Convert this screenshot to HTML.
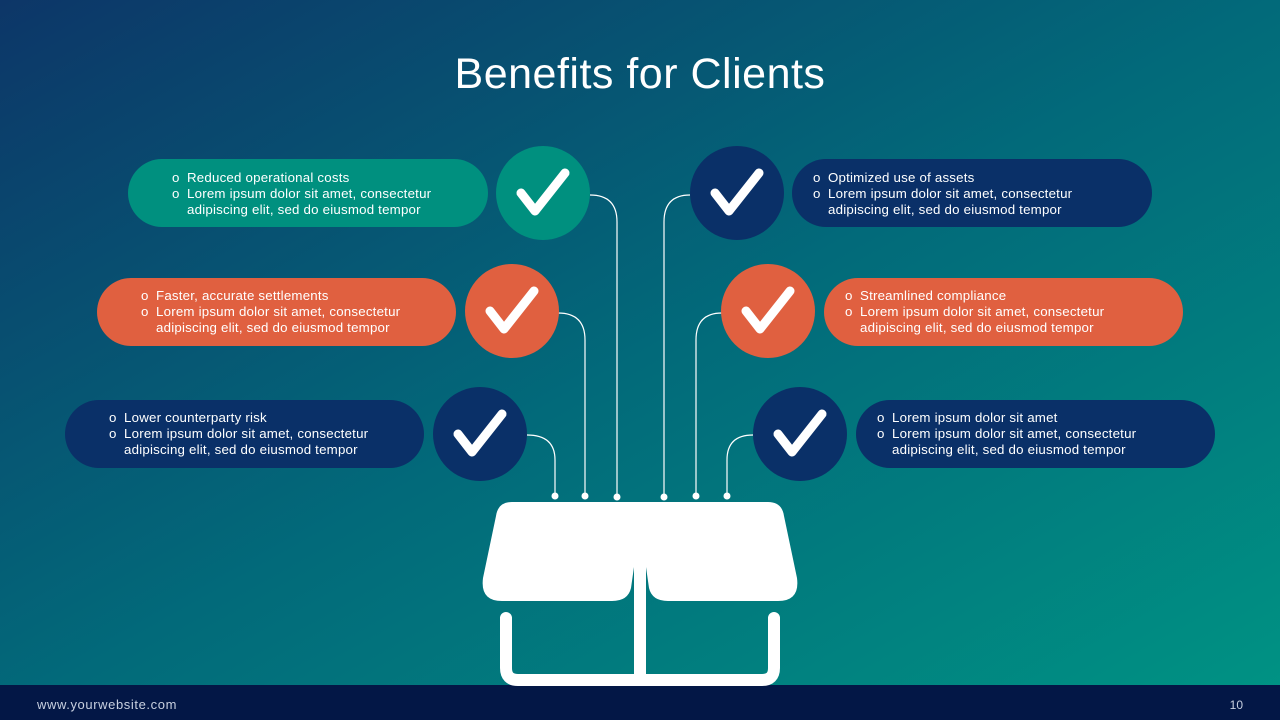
<!DOCTYPE html>
<html><head><meta charset="utf-8"><style>
html,body{margin:0;padding:0;width:1280px;height:720px;overflow:hidden}
svg{display:block}
text{font-family:"Liberation Sans",sans-serif;fill:#fff}
</style></head><body>
<svg width="1280" height="720" viewBox="0 0 1280 720" xmlns="http://www.w3.org/2000/svg">
<defs>
<linearGradient id="bg" x1="0" y1="0" x2="1" y2="1" gradientUnits="objectBoundingBox">
<stop offset="0" stop-color="#0d3668"/>
<stop offset="0.5" stop-color="#026a7a"/>
<stop offset="1" stop-color="#009484"/>
</linearGradient>
<g id="chk"><path d="M-22,0 L-8,18 L22,-20" fill="none" stroke="#fff" stroke-width="9" stroke-linecap="round" stroke-linejoin="round"/></g>
</defs>
<rect width="1280" height="720" fill="url(#bg)"/>
<rect y="685" width="1280" height="35" fill="#031746"/>
<text x="37" y="709" font-size="13" letter-spacing="0.6" style="fill:#c8d0e0">www.yourwebsite.com</text>
<text x="1243" y="709" font-size="12" text-anchor="end" style="fill:#c8d0e0">10</text>
<text x="640" y="88" font-size="43" text-anchor="middle" letter-spacing="0.5">Benefits for Clients</text>

<!-- connectors -->
<g fill="none" stroke="#fff" stroke-width="1.2">
<path d="M590,195 Q617,195 617,222 L617,497"/>
<path d="M558,313 Q585,313 585,340 L585,496"/>
<path d="M527,435 Q555,435 555,460 L555,496"/>
<path d="M690,195 Q664,195 664,222 L664,497"/>
<path d="M722,313 Q696,313 696,340 L696,496"/>
<path d="M753,435 Q727,435 727,460 L727,496"/>
</g>
<g fill="#fff">
<circle cx="555" cy="496" r="3.5"/><circle cx="585" cy="496" r="3.5"/><circle cx="617" cy="497" r="3.5"/>
<circle cx="664" cy="497" r="3.5"/><circle cx="696" cy="496" r="3.5"/><circle cx="727" cy="496" r="3.5"/>
</g>

<!-- pills -->
<rect x="128" y="159" width="360" height="68" rx="34" fill="#00907f"/>
<rect x="97" y="278" width="359" height="68" rx="34" fill="#e06040"/>
<rect x="65" y="400" width="359" height="68" rx="34" fill="#0a3068"/>
<rect x="792" y="159" width="360" height="68" rx="34" fill="#0a3068"/>
<rect x="824" y="278" width="359" height="68" rx="34" fill="#e06040"/>
<rect x="856" y="400" width="359" height="68" rx="34" fill="#0a3068"/>

<!-- circles -->
<circle cx="543" cy="193" r="47" fill="#00907f"/><use href="#chk" x="543" y="193"/>
<circle cx="512" cy="311" r="47" fill="#e06040"/><use href="#chk" x="512" y="311"/>
<circle cx="480" cy="434" r="47" fill="#0a3068"/><use href="#chk" x="480" y="434"/>
<circle cx="737" cy="193" r="47" fill="#0a3068"/><use href="#chk" x="737" y="193"/>
<circle cx="768" cy="311" r="47" fill="#e06040"/><use href="#chk" x="768" y="311"/>
<circle cx="800" cy="434" r="47" fill="#0a3068"/><use href="#chk" x="800" y="434"/>

<!-- texts -->
<g font-size="13.3" letter-spacing="0.2">
<text x="172" y="182">o</text><text x="187" y="182">Reduced operational costs</text>
<text x="172" y="198">o</text><text x="187" y="198">Lorem ipsum dolor sit amet, consectetur</text>
<text x="187" y="214">adipiscing elit, sed do eiusmod tempor</text>

<text x="141" y="300">o</text><text x="156" y="300">Faster, accurate settlements</text>
<text x="141" y="316">o</text><text x="156" y="316">Lorem ipsum dolor sit amet, consectetur</text>
<text x="156" y="332">adipiscing elit, sed do eiusmod tempor</text>

<text x="109" y="422">o</text><text x="124" y="422">Lower counterparty risk</text>
<text x="109" y="438">o</text><text x="124" y="438">Lorem ipsum dolor sit amet, consectetur</text>
<text x="124" y="454">adipiscing elit, sed do eiusmod tempor</text>

<text x="813" y="182">o</text><text x="828" y="182">Optimized use of assets</text>
<text x="813" y="198">o</text><text x="828" y="198">Lorem ipsum dolor sit amet, consectetur</text>
<text x="828" y="214">adipiscing elit, sed do eiusmod tempor</text>

<text x="845" y="300">o</text><text x="860" y="300">Streamlined compliance</text>
<text x="845" y="316">o</text><text x="860" y="316">Lorem ipsum dolor sit amet, consectetur</text>
<text x="860" y="332">adipiscing elit, sed do eiusmod tempor</text>

<text x="877" y="422">o</text><text x="892" y="422">Lorem ipsum dolor sit amet</text>
<text x="877" y="438">o</text><text x="892" y="438">Lorem ipsum dolor sit amet, consectetur</text>
<text x="892" y="454">adipiscing elit, sed do eiusmod tempor</text>
</g>

<!-- box -->
<path d="M512,502 L768,502 Q782,502 784,516 L797,578 Q800,601 778,601 L668,601 Q652,601 649,588 L645,560 L640,560 L635,560 L631,588 Q628,601 612,601 L502,601 Q480,601 483,578 L496,516 Q498,502 512,502 Z" fill="#fff"/>
<rect x="634" y="560" width="12" height="126" fill="#fff"/>
<path d="M506,618 L506,668 Q506,680 518,680 L762,680 Q774,680 774,668 L774,618" fill="none" stroke="#fff" stroke-width="12" stroke-linecap="round"/>
</svg>
</body></html>
